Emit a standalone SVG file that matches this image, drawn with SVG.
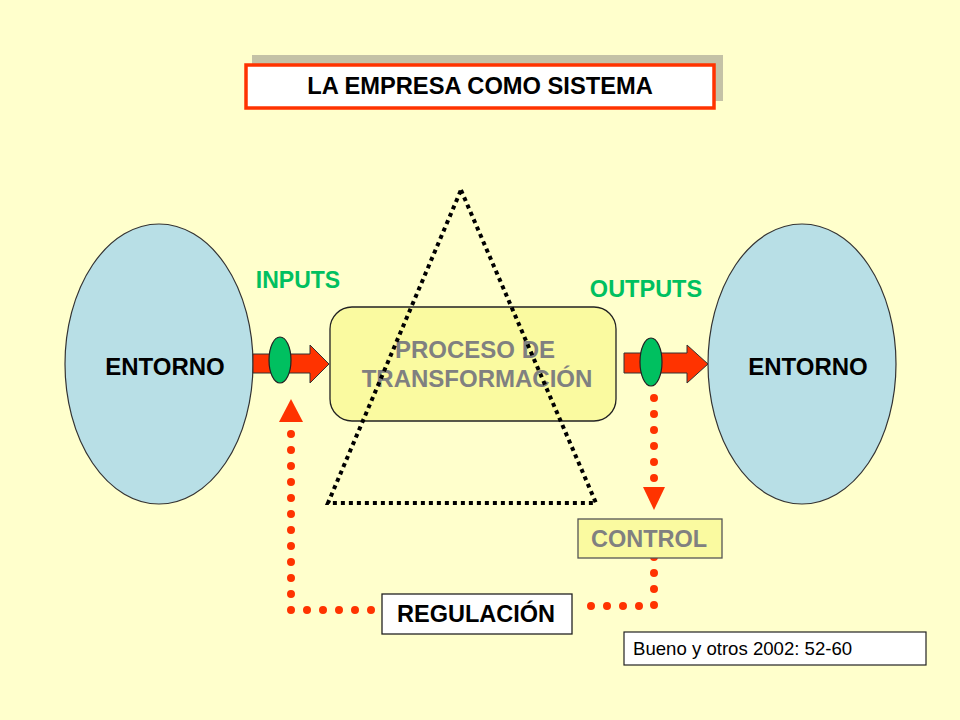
<svg xmlns="http://www.w3.org/2000/svg" width="960" height="720" viewBox="0 0 960 720">
<style>
.b{font-family:"Liberation Sans",Arial,sans-serif;font-weight:bold;text-anchor:middle}
.dots{fill:none;stroke:#ff3300;stroke-width:8;stroke-linecap:round;stroke-dasharray:0 16}
.env{fill:#b8dfe6;stroke:#333;stroke-width:1.2}
.arr{fill:#ff3300;stroke:#333;stroke-width:1}
.gel{fill:#00c060;stroke:#222;stroke-width:1.2}
</style>
<rect width="960" height="720" fill="#ffffcc"/>
<g id="title">
<rect x="252" y="55" width="471" height="46" fill="#c4c2a6"/>
<rect x="246" y="65" width="468" height="43" fill="#fff" stroke="#ff3300" stroke-width="3.5"/>
<text x="480" y="94" class="b" font-size="23.7" fill="#000">LA EMPRESA COMO SISTEMA</text>
</g>
<g id="entorno-left">
<ellipse cx="159" cy="364" rx="94" ry="140" class="env"/>
<text x="165" y="375" class="b" font-size="24" fill="#000">ENTORNO</text>
</g>
<g id="entorno-right">
<ellipse cx="802" cy="364" rx="94" ry="140" class="env"/>
<text x="808" y="375" class="b" font-size="24" fill="#000">ENTORNO</text>
</g>
<g id="proceso">
<rect x="330" y="307" width="286" height="114" rx="22" fill="#fafaa0" stroke="#222" stroke-width="1.3"/>
<text x="475" y="358" class="b" font-size="24" fill="#808080">PROCESO DE</text>
<text x="477" y="387" class="b" font-size="24" fill="#808080">TRANSFORMACIÓN</text>
</g>
<g id="triangle">
<path d="M461,190 L596,503 L328,503 Z" fill="none" stroke="#000" stroke-width="4" stroke-dasharray="4 4"/>
</g>
<g id="inputs">
<path d="M253,354 H310 V345 L329,364 L310,383 V373 H253 Z" class="arr"/>
<ellipse cx="280" cy="360" rx="11" ry="23" class="gel"/>
<text x="298" y="288" class="b" font-size="23" fill="#00c060">INPUTS</text>
</g>
<g id="outputs">
<path d="M624,353 H687 V345 L708,364 L687,383 V373 H624 Z" class="arr"/>
<ellipse cx="651" cy="362" rx="11" ry="24" class="gel"/>
<text x="646" y="297" class="b" font-size="23.5" fill="#00c060">OUTPUTS</text>
</g>
<g id="connectors">
<path d="M654,398 V479" class="dots"/>
<path d="M643,487 H665 L654,510 Z" fill="#ff3300"/>
<path d="M654,557 V606 H578" class="dots"/>
<path d="M371,610 H291 V433" class="dots"/>
<path d="M279,422 H303 L291,399 Z" fill="#ff3300"/>
</g>
<g id="control">
<rect x="578" y="519" width="144" height="39" fill="#fafaa0" stroke="#555" stroke-width="1.3"/>
<text x="649" y="547" class="b" font-size="23.5" fill="#808080">CONTROL</text>
</g>
<g id="regulacion">
<rect x="382" y="594" width="190" height="40" fill="#fff" stroke="#222" stroke-width="1.3"/>
<text x="476" y="622" class="b" font-size="23.5" fill="#000">REGULACIÓN</text>
</g>
<g id="cita">
<rect x="624" y="632" width="302" height="33" fill="#fff" stroke="#222" stroke-width="1.2"/>
<text x="633" y="655" font-family="Liberation Sans,Arial,sans-serif" font-size="18.6" fill="#000">Bueno y otros 2002: 52-60</text>
</g>
</svg>
